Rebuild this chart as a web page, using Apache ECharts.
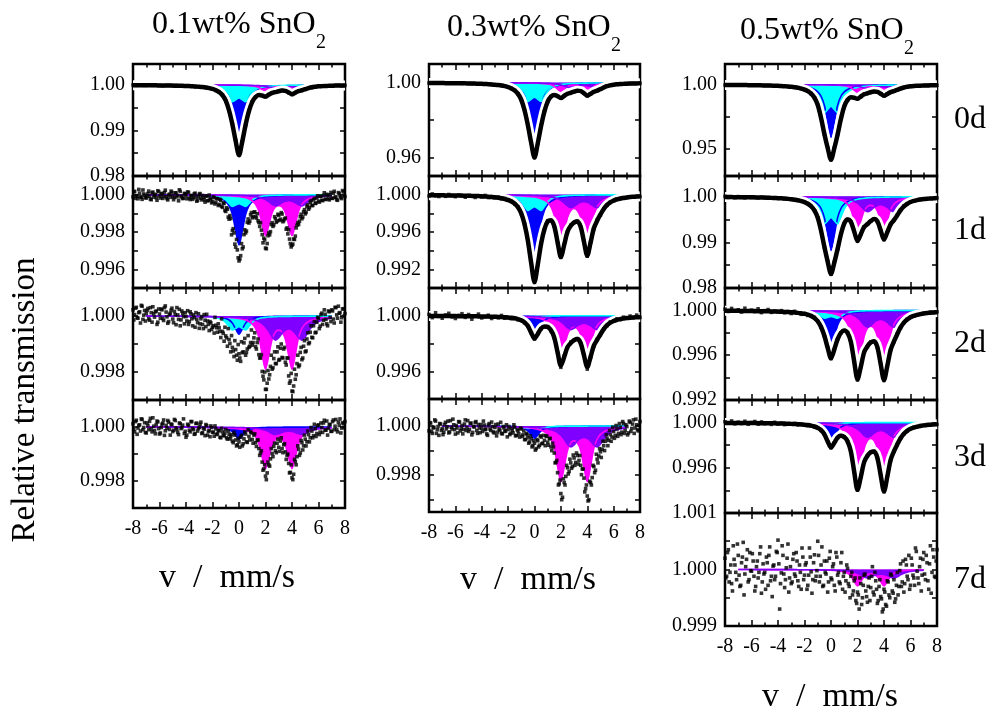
<!DOCTYPE html>
<html><head><meta charset="utf-8">
<script src="https://cdn.jsdelivr.net/npm/echarts@6/dist/echarts.min.js"></script>
<style>html,body{margin:0;padding:0;background:#fff}#c{width:994px;height:714px}</style>
</head><body><div id="c"></div><script>
// ---------------- data ----------------
const VELOCITY_RANGE = [-8, 8];          // mm/s, channels evenly spread over this range
const VELOCITY_RANGE_HALF = [-7.9375, 7.9375]; // second (interleaved) channel set
const COMPONENT_SPAN = [-7, 7];          // where the fitted sub-spectra are drawn
const X_TICK_LABELS = [-8, -6, -4, -2, 0, 2, 4, 6, 8];
const SAMPLE_TITLES = ['0.1wt% SnO', '0.3wt% SnO', '0.5wt% SnO'];
const AGING_LABELS = ['0d', '1d', '2d', '3d', '7d'];
const COMPONENT_NAMES = ['singlet', 'doublet 1', 'doublet 2', 'doublet 3'];

// normalised sub-spectrum shapes (peak = 1), one value per 0.25 mm/s from -8 to 8
const PROFILE_BLUE = [.003,.003,.003,.003, .003,.004,.004,.004,.004, .005,.005,.006,.006, .007,.008,.009,.010, .011,.013,.015,.018, .021,.025,.031,.038, .050,.066,.093,.138, .221,.390,.719, 1, .719,.390,.221, .138,.093,.066,.050, .038,.031,.025,.021, .018,.015,.013,.011, .010,.009,.008,.007, .006,.006,.005,.005, .004,.004,.004,.004, .003, .003,.003,.003,.003];
const PROFILE_CYAN = [.006,.007,.007,.008, .008,.008,.009,.009,.010, .011,.012,.013,.015, .016,.018,.020,.022, .026,.030,.035,.040, .049,.060,.075,.098, .131,.185,.280,.454, .753,1,.881, .765, .881,1,.753, .454,.280,.185,.131, .098,.075,.060,.049, .040,.035,.030,.026, .022,.020,.018,.016, .015,.013,.012,.011, .010,.009,.009,.008, .008, .008,.007,.007,.006];
const PROFILE_MAGENTA = [.003,.003,.003,.003, .003,.004,.004,.004,.004, .004,.005,.005,.005, .006,.006,.006,.007, .008,.008,.009,.010, .011,.012,.013,.013, .015,.017,.020,.023, .027,.032,.039, .046, .059,.076,.104, .150,.233,.400,.723, 1,.741,.439,.302, .266,.302,.439,.741, 1,.723,.400,.233, .150,.104,.076,.059, .046,.039,.032,.027, .023, .020,.018,.015,.013];
const PROFILE_PURPLE = [.005,.006,.006,.006, .006,.007,.007,.008,.008, .009,.009,.010,.010, .011,.012,.013,.014, .015,.016,.016,.018, .019,.021,.023,.026, .027,.031,.034,.038, .043,.048,.057, .065, .076,.091,.111, .137,.174,.229,.312, .441,.630,.865,1, .905,.717,.587,.542, .587,.717,.905,1, .865,.630,.441,.312, .229,.174,.137,.111, .091, .076,.065,.057,.048];

// sub-spectrum depths [blue singlet, cyan doublet, magenta doublet, purple doublet]
const DEPTH_01_0d = [0.0125, 0.0037, 0.0014, 0.0007];
const DEPTH_01_1d = [0.0027, 0.00063, 0.0022, 0.0006];
const DEPTH_01_2d = [0.00065, 0.0005, 0.0019, 0.00086];
const DEPTH_01_3d = [0.00045, 0, 0.00154, 0.00028];
const DEPTH_03_0d = [0.032, 0.0101, 0.0048, 0.0028];
const DEPTH_03_1d = [0.0077, 0.0017, 0.0056, 0.0014];
const DEPTH_03_2d = [0.0014, 0.00005, 0.0031, 0.001];
const DEPTH_03_3d = [0.0005, 0.0001, 0.00227, 0.00085];
const DEPTH_05_0d = [0.041, 0.022, 0.006, 0.003];
const DEPTH_05_1d = [0.0118, 0.006, 0.0072, 0.0033];
const DEPTH_05_2d = [0.0034, 0.0007, 0.0053, 0.0015];
const DEPTH_05_3d = [0.0018, 0.0001, 0.0053, 0.0013];
const DEPTH_05_7d = [0, 0, 0.00029, 0.00015];

// measured absorption (1 - transmission) in units of UNIT_*, channels evenly over the velocity range
const UNIT_01_0d = 1e-4;
const DATA_01_0d = [0,1,0,1, 1,0,1,1,1, 2,1,1,2, 1,2,3,2, 3,3,4,4, 5,6,7,9, 12,16,22,35, 56,86,122, 153, 125,88,57, 37,27,22,23, 26,21,18,15, 14,12,13,17, 21,17,13,12, 9,7,6,4, 3,3,2,2, 2, 1,1,2,1];
const UNIT_01_1d = 1e-5;
const DATA_01_1d = [12,-18,5,22,-8,14,-25,3,18, -6,9,27,-14,2,16,-21,7, -4,20,-12,11,28,-3,-19,8, 15,-9,4,-26,12,21,-7,3, -15,18,6,25,-4,13,30,-2, 19,4,27,8,33,2,24,38, 16,41,22,52,30,68,47,90, 78,131,128,192,205,281,296,355, 327,290,214,205,148,152,108,124, 95,118,102,149,150,214,233,286, 262,205,198,150,162,128,141,110, 131,104,139,125,178,188,262,271, 238,222,163,160,118,129,92,103, 64,78,41,58,28,47,18,35, 9,30,4,26,-2,22,1,19, -8,14,27,-11,6,21,-15,10];
const DATA_01_1d_B = [-15,20,8,-28,11,25,-4,16, 6,-19,24,-9,13,-2,30,-16, 18,-7,9,-24,21,2,14,-12, 27,-10,12,33,-18,7,19,-5, 22,-12,26,4,17,-8,35,12, -6,28,15,40,7,31,20,44, 12,50,20,58,25,62,44,85, 70,120,112,215,182,265,240,338, 345,262,280,188,195,130,142,96, 118,92,125,140,170,190,258,242, 290,220,215,160,170,118,148,105, 138,96,145,130,185,210,238,280, 265,240,178,150,142,105,120,80, 95,55,70,32,58,20,45,6, 40,8,32,-10,24,3,28,-12, 20,-18,12,30,-6,15,-22,4];
const UNIT_01_2d = 1e-5;
const DATA_01_2d = [-22,-5,-31,8,-15,-38,12,-20,-9, -27,15,-12,-33,4,-18,22,-7, -25,9,-30,-14,26,-6,-21,11, -16,31,-4,-24,14,-10,28,2, -19,20,-8,35,6,-12,24,44, 10,30,-5,38,18,52,25,40, 61,33,58,42,77,55,90,71, 108,84,128,112,145,120,158,135, 162,131,96,140,118,112,95,104, 78,110,95,138,150,198,228,262, 240,225,180,190,152,170,128,158, 115,148,118,165,150,214,232,268, 250,226,170,181,130,156,108,128, 82,99,58,76,35,60,22,8, 36,-10,15,-6,28,-18,5,-22, 11,-31,-4,-35,-12,6,-26,-9];
const DATA_01_2d_B = [14,-28,6,-12,25,-35,-3,18, -20,10,-30,22,-8,-15,30,-25, 8,-22,16,-36,3,20,-10,-28, 24,-5,-30,12,35,-18,2,-12, 18,30,-15,10,-4,40,12,-8, 28,2,45,15,-6,30,20,48, 35,5,42,28,55,10,62,40, 78,45,98,70,125,88,140,102, 150,92,128,80,130,70,108,50, 95,60,118,82,150,138,215,200, 262,195,210,140,185,128,170,110, 155,100,150,112,175,150,240,205, 270,190,210,140,175,112,150,88, 125,60,95,35,78,20,58,5, 45,-5,30,-22,12,35,-15,20, -18,25,-30,8,-10,22,-25,0];
const UNIT_01_3d = 1e-5;
const DATA_01_3d = [-12,18,-25,4,-8,-30,10,-16,22, -5,-21,7,-34,13,-9,-19,26, 2,-14,31,-6,-24,9,-11,17, -28,3,20,-15,6,-7,24,38, -10,12,-20,5,27,-13,15,1, -18,21,8,-9,30,13,-4,19, 34,7,25,14,40,18,33,9, 45,27,36,52,20,48,66,55, 38,70,44,26,57,35,18,46, 30,58,49,80,96,130,155,182, 170,140,118,98,72,88,60,75, 52,80,66,92,105,135,168,188, 175,128,110,82,96,58,70,45, 55,28,40,15,32,6,24,-8, 19,2,-15,11,-22,5,-10,16, -26,-3,9,-18,-30,4,-12,-20];
const DATA_01_3d_B = [8,-20,27,-6,15,-28,2,20, -15,10,-32,18,-3,25,-22,6, 22,-10,-26,14,4,-18,30,-8, 12,-24,9,28,-12,2,-30,16, 30,-6,18,-20,10,25,-14,6, -10,24,4,32,-5,16,36,2, 20,-4,28,12,38,5,30,22, 40,15,44,28,58,30,70,42, 75,30,62,18,55,10,48,22, 60,25,72,48,105,88,160,140, 195,130,145,80,110,60,95,45, 90,40,95,62,120,100,170,140, 195,120,140,70,105,50,85,30, 70,15,55,2,40,-10,35,-5, 28,-15,20,-25,12,30,-8,16, -20,10,-28,18,-6,22,-16,2];
const UNIT_03_0d = 1e-4;
const DATA_03_0d = [2,2,1,3, 2,2,3,2,3, 3,4,3,4, 5,5,6,6, 7,8,9,11, 13,15,19,24, 31,41,60,92, 149,229,322, 401, 324,232,155, 101,74,65,73, 82,71,59,54, 48,43,45,57, 70,60,49,43, 35,26,19,14, 11,9,8,6, 5, 5,4,4,3];
const UNIT_03_1d = 1e-5;
const DATA_03_1d = [15,-8,12,20, 3,18,-2,10,22, 5,15,28,9, 14,30,12,25, 8,31,20,34, 26,45,40,62, 70,101,132,205, 315,498,728, 940, 752,520,378, 280,280,335,515, 672,534,402,328, 300,282,348,498, 660,510,365,272, 218,150,115,80, 66,48,44,32, 31, 22,25,17,20];
const UNIT_03_2d = 1e-5;
const DATA_03_2d = [-10,14,-22,5, 18,-6,-18,9,20, -3,-15,12,-9, 25,2,-12,16, 8,-4,20,6, 15,-2,18,14, 22,20,30,35, 52,76,122, 168, 128,95,80, 78,108,160,268, 372,290,230,190, 178,165,200,280, 385,300,218,170, 138,95,72,45, 40,22,28,10, 18, 2,14,-5,12];
const UNIT_03_3d = 1e-5;
const DATA_03_3d = [20,-12,30,5,-20,15,38,-8,10, 25,-15,3,28,-22,12,-5,33, 8,-18,20,-2,14,-25,6,22, -10,36,2,-14,18,-6,27,9, -20,15,32,-4,12,-16,24,6, 40,-8,18,30,2,22,-5,14, 35,10,28,5,38,20,45,12, 36,55,30,48,65,52,80,70, 92,60,78,45,70,58,40,66, 52,85,70,110,148,190,235,275, 290,230,205,170,185,150,165,130, 148,120,140,160,175,212,255,285, 300,230,210,165,180,135,122,105, 95,80,62,50,58,35,45,22, 38,12,30,5,25,-10,18,2, 28,-15,10,-25,8,-5,20,-18];
const DATA_03_3d_B = [-14,22,8,-25,30,2,-10,18, 35,-6,12,-20,24,5,-28,15, -2,28,-16,10,32,-8,18,-22, 14,-12,26,4,-18,30,8,-6, 22,-4,12,38,-10,18,2,28, -6,25,12,-15,32,8,20,44, 2,30,18,-5,40,15,32,8, 42,20,55,35,70,40,85,60, 98,55,85,40,72,38,80,42, 78,50,100,85,150,140,240,220, 300,215,240,160,195,135,172,118, 160,110,155,120,198,175,268,240, 305,225,240,160,190,115,150,92, 128,62,100,35,80,18,62,5, 50,-2,42,-10,35,-18,30,-5, 36,-20,22,-8,30,-28,15,-2];
const UNIT_05_0d = 1e-4;
const DATA_05_0d = [3,3,3,3, 4,4,4,4,5, 5,5,6,7, 7,8,9,10, 11,13,15,17, 21,25,31,39, 51,70,102,159, 259,383,493, 583, 494,387,266, 170,119,99,102, 110,93,76,68, 59,54,56,71, 86,73,58,50, 41,30,23,17, 14,11,10,8, 7, 6,6,5,5];
const UNIT_05_1d = 1e-5;
const DATA_05_1d = [-5,20,8,25, 0,18,30,10,22, 12,28,15,30, 22,35,25,40, 32,48,45,60, 65,85,95,125, 155,210,305,462, 748,1102,1420, 1700, 1440,1148,820, 590,500,555,760, 972,820,665,600, 538,490,545,740, 942,778,605,518, 408,300,210,160, 118,95,80,62, 55, 46,40,38,30];
const UNIT_05_2d = 1e-5;
const DATA_05_2d = [-12,10,-18,5, -6,15,-20,8,-3, 12,-15,20,2, -8,18,6,14, 2,22,10,28, 8,24,35,28, 45,50,62,98, 150,228,332, 430, 350,255,200, 180,198,285,455, 620,505,372,325, 282,278,330,482, 625,498,350,280, 210,155,110,78, 60,52,38,35, 26, 22,15,20,12];
const UNIT_05_3d = 1e-5;
const DATA_05_3d = [-8,6,-15,12, -4,9,-12,15,0, -10,14,-6,10, 2,16,-3,12, 5,18,10,15, 8,20,14,22, 28,30,38,48, 70,102,168, 222, 180,135,115, 128,168,258,432, 598,480,352,295, 265,255,312,468, 612,480,330,255, 195,138,100,72, 56,42,38,26, 25, 18,22,12,16];
const UNIT_05_7d = 1e-5;
const DATA_05_7d = [-20,12,-35,5,25,-42,-8,18,-25, 30,-12,-48,8,-18,22,-30,3, -15,38,-5,15,-28,42,-10,5, -22,28,-40,12,-6,18,-32,-52, 70,6,-25,32,-3,-45,15,25, -18,8,-30,20,-8,35,-22,10, -12,28,-38,4,18,-26,12,-50, 22,-8,30,-15,8,40,-20,15, -5,28,-30,10,22,-12,35,5, 20,-2,30,12,45,20,55,40, 70,25,50,10,38,58,15,32, -5,45,20,60,30,48,75,35, 62,20,45,8,38,18,52,5, 30,-10,22,40,-18,12,-25,28, -8,15,-38,3,25,-20,10,-30, 18,-12,35,-42,5,-22,14,-35];
const DATA_05_7d_B = [15,-30,22,-8,38,-18,5,-45, 10,28,-22,45,-5,-35,18,2, -28,12,30,-15,5,-40,22,8, 35,-12,-25,20,48,-8,12,-30, -10,25,-42,8,18,-20,40,-5, 22,-28,12,-15,30,5,-38,18, -8,35,10,-22,42,-12,20,2, -25,12,-40,28,5,-15,22,-32, 18,-10,38,-22,5,25,-30,12, 40,-8,25,50,5,38,15,60, 45,15,62,28,8,48,30,55, 12,40,5,35,55,18,52,70, 40,65,22,50,10,42,58,28, 45,2,30,-15,25,-8,18,35, -20,10,28,-32,15,-5,38,-18, 8,-25,20,-10,42,-35,12,-15];

// y-axis scales per panel
const YRANGE_01 = [[0.98, 1.0046], [0.995, 1.001], [0.997, 1.001], [0.997, 1.001]];
const YRANGE_03 = [[0.95, 1.01], [0.99, 1.002], [0.994, 1.002], [0.9965, 1.0011]];
const YRANGE_05 = [[0.929, 1.016], [0.98, 1.0045], [0.992, 1.002], [0.992, 1.002], [0.999, 1.001]];
const YLABELS_01 = [[0.98, 0.99, 1.00], [0.996, 0.998, 1.000], [0.998, 1.000], [0.998, 1.000]];
const YLABELS_03 = [[0.96, 1.00], [0.992, 0.996, 1.000], [0.996, 1.000], [0.998, 1.000]];
const YLABELS_05 = [[0.95, 1.00], [0.98, 0.99, 1.00], [0.992, 0.996, 1.000], [0.996, 1.000], [0.999, 1.000, 1.001]];
const YTICKS_01 = [[0.98, 0.985, 0.99, 0.995, 1.0], [0.996, 0.997, 0.998, 0.999, 1.0], [0.998, 0.999, 1.0], [0.998, 0.999, 1.0]];
const YTICKS_03 = [[0.96, 0.98, 1.0], [0.992, 0.994, 0.996, 0.998, 1.0], [0.996, 0.998, 1.0], [0.997, 0.998, 0.999, 1.0]];
const YTICKS_05 = [[0.95, 0.975, 1.0], [0.98, 0.985, 0.99, 0.995, 1.0], [0.992, 0.994, 0.996, 0.998, 1.0], [0.994, 0.996, 0.998, 1.0], [0.9995, 1.0, 1.0005]];
const YDECIMALS_01 = [2, 3, 3, 3];
const YDECIMALS_03 = [2, 3, 3, 3];
const YDECIMALS_05 = [2, 2, 3, 3, 3];

// ---------------- layout / style ----------------
const FONT = '"Liberation Serif", "Times New Roman", serif';
const COLORS = ['#0000ff', '#00ffff', '#ff00ff', '#8000ff'];
const COL_BOX = [{left: 133, width: 212}, {left: 429, width: 211}, {left: 725, width: 212}];
const ROW_BOX = [
  [[64, 112], [176, 112], [288, 112], [400, 108]],
  [[64, 112], [176, 112], [288, 111], [399, 113]],
  [[64, 112], [176, 112], [288, 112], [400, 113], [513, 113]]
];

const PANELS = [
  {c: 0, r: 0, depth: DEPTH_01_0d, data: [DATA_01_0d], unit: UNIT_01_0d, clean: true},
  {c: 0, r: 1, depth: DEPTH_01_1d, data: [DATA_01_1d, DATA_01_1d_B], unit: UNIT_01_1d, clean: false},
  {c: 0, r: 2, depth: DEPTH_01_2d, data: [DATA_01_2d, DATA_01_2d_B], unit: UNIT_01_2d, clean: false},
  {c: 0, r: 3, depth: DEPTH_01_3d, data: [DATA_01_3d, DATA_01_3d_B], unit: UNIT_01_3d, clean: false, xlab: true},
  {c: 1, r: 0, depth: DEPTH_03_0d, data: [DATA_03_0d], unit: UNIT_03_0d, clean: true},
  {c: 1, r: 1, depth: DEPTH_03_1d, data: [DATA_03_1d], unit: UNIT_03_1d, clean: true},
  {c: 1, r: 2, depth: DEPTH_03_2d, data: [DATA_03_2d], unit: UNIT_03_2d, clean: true},
  {c: 1, r: 3, depth: DEPTH_03_3d, data: [DATA_03_3d, DATA_03_3d_B], unit: UNIT_03_3d, clean: false, xlab: true},
  {c: 2, r: 0, depth: DEPTH_05_0d, data: [DATA_05_0d], unit: UNIT_05_0d, clean: true},
  {c: 2, r: 1, depth: DEPTH_05_1d, data: [DATA_05_1d], unit: UNIT_05_1d, clean: true},
  {c: 2, r: 2, depth: DEPTH_05_2d, data: [DATA_05_2d], unit: UNIT_05_2d, clean: true},
  {c: 2, r: 3, depth: DEPTH_05_3d, data: [DATA_05_3d], unit: UNIT_05_3d, clean: true},
  {c: 2, r: 4, depth: DEPTH_05_7d, data: [DATA_05_7d, DATA_05_7d_B], unit: UNIT_05_7d, clean: false, xlab: true}
];
const YRANGES = [YRANGE_01, YRANGE_03, YRANGE_05];
const YLABELS = [YLABELS_01, YLABELS_03, YLABELS_05];
const YTICKS = [YTICKS_01, YTICKS_03, YTICKS_05];
const YDEC = [YDECIMALS_01, YDECIMALS_03, YDECIMALS_05];
const PROFILES = [PROFILE_BLUE, PROFILE_CYAN, PROFILE_MAGENTA, PROFILE_PURPLE];

function channels(n, range) {
  const a = [];
  for (let i = 0; i < n; i++) a.push(range[0] + (range[1] - range[0]) * i / (n - 1));
  return a;
}

const grids = [], xAxes = [], yAxes = [], series = [];
const tickStyle = {color: '#000', width: 1.5};
PANELS.forEach((p, gi) => {
  const box = COL_BOX[p.c], rb = ROW_BOX[p.c][p.r];
  grids.push({left: box.left, width: box.width, top: rb[0], height: rb[1], show: true, borderColor: '#000', borderWidth: 2.5, backgroundColor: 'transparent', containLabel: false});
  const yr = YRANGES[p.c][p.r], ylab = YLABELS[p.c][p.r], ytk = YTICKS[p.c][p.r], dec = YDEC[p.c][p.r];
  ['bottom', 'top'].forEach((pos, k) => {
    xAxes.push({gridIndex: gi, type: 'value', position: pos, min: -8, max: 8, interval: 2,
      axisLine: {show: false, onZero: false}, splitLine: {show: false}, minorSplitLine: {show: false},
      axisTick: {show: true, inside: true, length: 6, lineStyle: tickStyle},
      minorTick: {show: true, splitNumber: 2, length: 3.5, lineStyle: tickStyle},
      axisLabel: {show: k === 0 && !!p.xlab, color: '#000', fontSize: 20, fontFamily: FONT, margin: 11,
        customValues: X_TICK_LABELS}});
  });
  ['left', 'right'].forEach((pos, k) => {
    yAxes.push({gridIndex: gi, type: 'value', position: pos, min: yr[0], max: yr[1], scale: true,
      axisLine: {show: false, onZero: false}, splitLine: {show: false},
      axisTick: {show: true, inside: true, length: 5, lineStyle: tickStyle, customValues: ytk},
      axisLabel: {show: k === 0, color: '#000', fontSize: 20, fontFamily: FONT, margin: 8,
        customValues: ylab, formatter: v => Number(v).toFixed(dec)}});
  });
  const xa = 2 * gi, ya = 2 * gi;
  const xc = channels(PROFILE_BLUE.length, VELOCITY_RANGE);
  // sub-spectra
  p.depth.forEach((d, ci) => {
    if (d <= 0) return;
    const pts = [];
    xc.forEach((x, i) => { if (x >= COMPONENT_SPAN[0] - 1e-9 && x <= COMPONENT_SPAN[1] + 1e-9) pts.push([x, 1 - d * PROFILES[ci][i]]); });
    series.push({name: COMPONENT_NAMES[ci], type: 'line', xAxisIndex: xa, yAxisIndex: ya, data: pts, symbol: 'none', smooth: 0.3,
      lineStyle: {color: COLORS[ci], width: 1.6}, areaStyle: {color: COLORS[ci], opacity: 1, origin: 1}, z: 2, silent: true});
  });
  // total fit
  const fit = xc.map((x, i) => [x, 1 - p.depth.reduce((s, d, ci) => s + d * PROFILES[ci][i], 0)]);
  if (p.clean) {
    series.push({type: 'line', xAxisIndex: xa, yAxisIndex: ya, data: fit, symbol: 'none', smooth: 0.3,
      lineStyle: {color: '#fff', width: 10}, z: 3, silent: true});
    series.push({type: 'line', xAxisIndex: xa, yAxisIndex: ya, data: fit, symbol: 'none', smooth: 0.3,
      lineStyle: {color: '#000', width: 4.5}, z: 4, silent: true});
  }
  // measured points
  p.data.forEach((arr, k) => {
    const xd = channels(arr.length, k === 0 ? VELOCITY_RANGE : VELOCITY_RANGE_HALF);
    series.push({type: 'scatter', xAxisIndex: xa, yAxisIndex: ya, data: arr.map((v, i) => [xd[i], 1 - v * p.unit]),
      symbol: 'rect', symbolSize: p.clean ? 3.5 : 3.6, itemStyle: {color: '#000'}, z: 5, silent: true});
  });
});

const graphics = [];
const TITLE_POS = [[152, 25], [447, 28], [740, 31]];
SAMPLE_TITLES.forEach((t, i) => {
  graphics.push({type: 'text', x: TITLE_POS[i][0], y: TITLE_POS[i][1], style: {text: t, font: '32px ' + FONT, fill: '#000', textAlign: 'left', textVerticalAlign: 'middle'}});
});
const SUB_POS = [[316, 43], [611, 46], [904, 49]];
SUB_POS.forEach(s => graphics.push({type: 'text', x: s[0], y: s[1], style: {text: '2', font: '20px ' + FONT, fill: '#000', textAlign: 'left', textVerticalAlign: 'middle'}}));
const AGE_POS = [120, 231, 344, 458, 580];
AGING_LABELS.forEach((t, i) => graphics.push({type: 'text', x: 970, y: AGE_POS[i], style: {text: t, font: '32px ' + FONT, fill: '#000', textAlign: 'center', textVerticalAlign: 'middle'}}));
[[227, 578], [528, 580], [830, 697]].forEach(q => graphics.push({type: 'text', x: q[0], y: q[1], style: {text: 'v  /  mm/s', font: '34px ' + FONT, fill: '#000', textAlign: 'center', textVerticalAlign: 'middle'}}));
graphics.push({type: 'text', x: 25, y: 400, rotation: Math.PI / 2, style: {text: 'Relative transmission', font: '33px ' + FONT, fill: '#000', textAlign: 'center', textVerticalAlign: 'middle'}});

const chart = echarts.init(document.getElementById('c'), null, {renderer: 'canvas'});
chart.setOption({animation: false, backgroundColor: '#fff', grid: grids, xAxis: xAxes, yAxis: yAxes, series: series, graphic: graphics});
</script></body></html>
